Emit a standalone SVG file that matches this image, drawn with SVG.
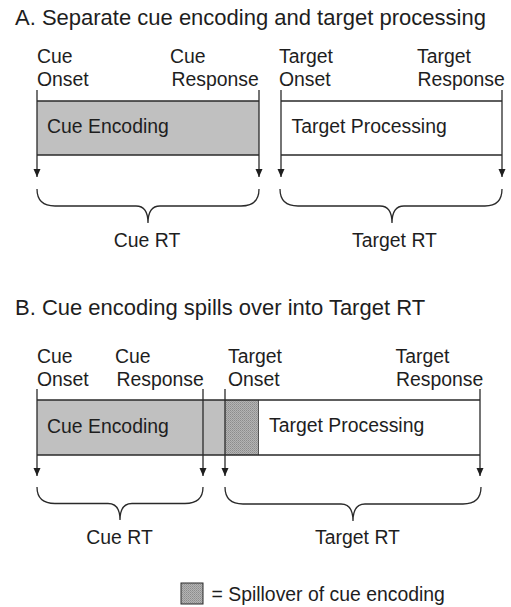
<svg xmlns="http://www.w3.org/2000/svg" width="511" height="607" viewBox="0 0 511 607">
  <style>
    text { font-family: "Liberation Sans", Arial, sans-serif; fill: #1e1e1e; }
    .title { font-size: 22px; }
    .lbl { font-size: 19.4px; }
    .mid { text-anchor: middle; }
    .edge { stroke: #2a2a2a; stroke-width: 1.3; fill: none; }
    .tick { stroke: #2a2a2a; stroke-width: 1.3; fill: none; marker-end: url(#arrow); }
    .brace { stroke: #2a2a2a; stroke-width: 1.3; fill: none; }
    .cue { fill: #c0c0c0; }
    .spill { fill: url(#dots); }
    .plain { fill: #ffffff; }
  </style>
  <defs>
    <marker id="arrow" viewBox="0 0 8 8" refX="8" refY="4" markerWidth="8" markerHeight="8" markerUnits="userSpaceOnUse" orient="auto">
      <path d="M0,0.5 L8,4 L0,7.5 Z" fill="#1e1e1e"/>
    </marker>
    <pattern id="dots" width="2" height="2" patternUnits="userSpaceOnUse">
      <rect width="2" height="2" fill="#b4b4b4"/>
      <rect width="1" height="1" fill="#8c8c8c"/>
      <rect x="1" y="1" width="1" height="1" fill="#9a9a9a"/>
    </pattern>
  </defs>

  <!-- Panel A -->
  <text class="title" x="15" y="25">A. Separate cue encoding and target processing</text>

  <g id="a-cue-encoding">
    <rect class="cue" x="37" y="101" width="222" height="54"/>
    <path class="edge" d="M37,101 H259 M37,155 H259"/>
    <text class="lbl" x="47" y="133">Cue Encoding</text>
  </g>
  <g id="a-target-processing">
    <rect class="plain" x="281" y="101" width="221" height="54"/>
    <path class="edge" d="M281,101 H502 M281,155 H502"/>
    <text class="lbl" x="291.5" y="133">Target Processing</text>
  </g>

  <g id="a-labels">
    <text class="lbl" x="37" y="63">Cue</text>
    <text class="lbl" x="37" y="86">Onset</text>
    <text class="lbl" x="170" y="63">Cue</text>
    <text class="lbl" x="171.5" y="86">Response</text>
    <text class="lbl" x="279" y="63">Target</text>
    <text class="lbl" x="279" y="86">Onset</text>
    <text class="lbl" x="417" y="63">Target</text>
    <text class="lbl" x="417.5" y="86">Response</text>
  </g>

  <g id="a-connectors">
    <line class="tick" x1="37" y1="90" x2="37" y2="177"/>
    <line class="tick" x1="259" y1="90" x2="259" y2="177"/>
    <line class="tick" x1="281" y1="90" x2="281" y2="177"/>
    <line class="tick" x1="502" y1="90" x2="502" y2="177"/>
    <path class="brace" d="M37,189 C37,200 43,206 55,206 L136,206 C144,206 148,212 148,223 C148,212 152,206 160,206 L241,206 C253,206 259,200 259,189"/>
    <path class="brace" d="M280,189 C280,200 286,206 298,206 L380,206 C388,206 392,212 392,223 C392,212 396,206 404,206 L485,206 C497,206 502,200 502,189"/>
  </g>

  <g id="a-rt-labels">
    <text class="lbl mid" x="147" y="247">Cue RT</text>
    <text class="lbl mid" x="394.5" y="247">Target RT</text>
  </g>

  <!-- Panel B -->
  <text class="title" x="15" y="315">B. Cue encoding spills over into Target RT</text>

  <g id="b-cue-encoding">
    <rect class="cue" x="37" y="400" width="188" height="55"/>
    <text class="lbl" x="47" y="433">Cue Encoding</text>
  </g>
  <g id="b-spillover">
    <rect class="spill" x="225" y="400" width="34" height="55"/>
    <line class="edge" x1="259" y1="400" x2="259" y2="455"/>
  </g>
  <g id="b-target-processing">
    <rect class="plain" x="259" y="400" width="221" height="55"/>
    <text class="lbl" x="269" y="432">Target Processing</text>
  </g>
  <path class="edge" d="M37,400 H480 M37,455 H480"/>

  <g id="b-labels">
    <text class="lbl" x="37" y="363">Cue</text>
    <text class="lbl" x="37" y="386">Onset</text>
    <text class="lbl" x="115" y="363">Cue</text>
    <text class="lbl" x="116.5" y="386">Response</text>
    <text class="lbl" x="228" y="363">Target</text>
    <text class="lbl" x="228" y="386">Onset</text>
    <text class="lbl" x="395.5" y="363">Target</text>
    <text class="lbl" x="396" y="386">Response</text>
  </g>

  <g id="b-connectors">
    <line class="tick" x1="37" y1="389" x2="37" y2="476"/>
    <line class="tick" x1="203" y1="389" x2="203" y2="476"/>
    <line class="tick" x1="225" y1="389" x2="225" y2="476"/>
    <line class="tick" x1="480" y1="389" x2="480" y2="476"/>
    <path class="brace" d="M37,487 C37,498 43,503.5 55,503.5 L108,503.5 C116,503.5 120,509 120,520 C120,509 124,503.5 132,503.5 L185,503.5 C197,503.5 203,498 203,487"/>
    <path class="brace" d="M225,487 C225,498 231,504 243,504 L341,504 C349,504 353,510 353,521 C353,510 357,504 365,504 L463,504 C475,504 481,498 481,487"/>
  </g>

  <g id="b-rt-labels">
    <text class="lbl mid" x="119.5" y="544">Cue RT</text>
    <text class="lbl mid" x="357.5" y="544">Target RT</text>
  </g>

  <g id="legend">
    <rect class="spill" x="181" y="583" width="22" height="21" stroke="#2a2a2a" stroke-width="1"/>
    <text class="lbl" x="211.5" y="601">= Spillover of cue encoding</text>
  </g>
</svg>
